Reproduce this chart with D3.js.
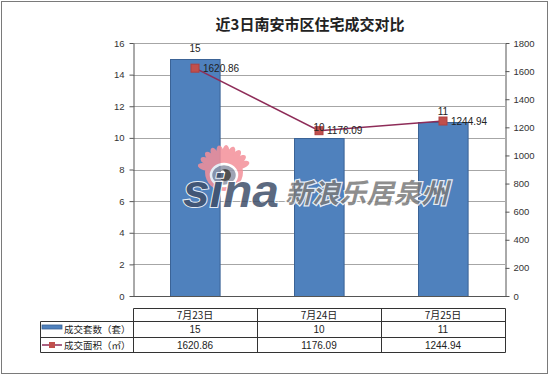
<!DOCTYPE html>
<html><head><meta charset="utf-8">
<script src="https://cdn.jsdelivr.net/npm/d3@7"></script>
<style>body{margin:0;background:#fff}svg{display:block}</style>
</head><body>
<script>
const title = "近3日南安市区住宅成交对比";
const categories = ["7月23日", "7月24日", "7月25日"];
const countValues = [15, 10, 11];
const areaValues = [1620.86, 1176.09, 1244.94];
const areaLabels = ["1620.86", "1176.09", "1244.94"];
const seriesNames = ["成交套数（套）", "成交面积（㎡）"];
const leftTicks = [0, 2, 4, 6, 8, 10, 12, 14, 16];
const rightTicks = [0, 200, 400, 600, 800, 1000, 1200, 1400, 1600, 1800];

const W = 550, H = 377;
const plot = {l: 133, r: 505, t: 43, b: 296};
const font = "'Liberation Sans', Arial, sans-serif";
const cjk = "'Noto Sans CJK SC', sans-serif";

const svg = d3.select("body").append("svg").attr("width", W).attr("height", H);
svg.append("rect").attr("width", W).attr("height", H).attr("fill", "#fff");
svg.append("rect").attr("x", 1.5).attr("y", 1.5).attr("width", 546).attr("height", 372)
  .attr("fill", "none").attr("stroke", "#7a7a7a").attr("stroke-width", 1);

svg.append("text").attr("x", 310).attr("y", 30).attr("text-anchor", "middle")
  .attr("font-family", cjk).attr("font-size", 15).attr("font-weight", 600).attr("fill", "#222")
  .text(title);

const x = d3.scaleBand().domain(categories).range([plot.l, plot.r]).paddingInner(0.6).paddingOuter(0.3);
const yL = d3.scaleLinear().domain([0, 16]).range([plot.b, plot.t]);
const yR = d3.scaleLinear().domain([0, 1800]).range([plot.b, plot.t]);
const cx = c => x(c) + x.bandwidth() / 2;

// gridlines
svg.append("g").selectAll("line").data(leftTicks.filter(d => d > 0)).join("line")
  .attr("x1", plot.l).attr("x2", plot.r)
  .attr("y1", d => Math.round(yL(d)) + 0.5).attr("y2", d => Math.round(yL(d)) + 0.5)
  .attr("stroke", "#a6a6a6").attr("stroke-width", 1);

// bars
svg.append("g").selectAll("rect").data(countValues).join("rect")
  .attr("x", (d, i) => Math.round(x(categories[i])) + 0.5)
  .attr("y", d => Math.round(yL(d)) + 0.5)
  .attr("width", x.bandwidth())
  .attr("height", d => plot.b - Math.round(yL(d)))
  .attr("fill", "#4f81bd").attr("stroke", "#3b6396").attr("stroke-width", 1);

// watermark
const wm = svg.append("g").attr("opacity", 0.85);
const eye = wm.append("g").attr("transform", "translate(224,172)");
const rays = d3.range(-165, -10, 16);
eye.selectAll("ellipse.ray").data(rays).join("ellipse").attr("class", "ray")
  .attr("transform", d => `rotate(${d + 90}) translate(0,-20)`)
  .attr("rx", 3.5).attr("ry", 7).attr("fill", "#f4909a");
eye.append("circle").attr("r", 19).attr("fill", "#f4909a");
eye.append("ellipse").attr("rx", 13).attr("ry", 11).attr("cy", 3).attr("fill", "#8f95a8").attr("stroke", "#fff").attr("stroke-width", 2.5);
eye.append("circle").attr("r", 6).attr("cx", 1).attr("cy", 3).attr("fill", "#333");
eye.append("circle").attr("r", 2.2).attr("cx", -1.5).attr("cy", 0.5).attr("fill", "#fff");
wm.append("text").attr("x", 183).attr("y", 207).attr("font-family", "'Liberation Sans', Arial, sans-serif")
  .attr("font-size", 46).attr("font-weight", "bold").attr("font-style", "italic")
  .attr("fill", "#3f4f6a").attr("stroke", "#fff").attr("stroke-width", 2).attr("paint-order", "stroke")
  .attr("textLength", 96).attr("lengthAdjust", "spacingAndGlyphs").text("sina");
wm.append("text").attr("x", 285).attr("y", 203).attr("font-family", cjk)
  .attr("font-size", 27).attr("font-weight", "bold").attr("font-style", "italic")
  .attr("fill", "#7b7b7b").attr("stroke", "#fff").attr("stroke-width", 2.5).attr("paint-order", "stroke")
  .attr("textLength", 163).text("新浪乐居泉州");

// axes
const axL = d3.axisLeft(yL).tickValues(leftTicks).tickSize(4).tickPadding(5).tickSizeOuter(0).tickFormat(d3.format("d"));
const gL = svg.append("g").attr("transform", `translate(${plot.l + 0.5},0)`).call(axL);
const axR = d3.axisRight(yR).tickValues(rightTicks).tickSize(4).tickPadding(4).tickSizeOuter(0).tickFormat(d3.format("d"));
const gR = svg.append("g").attr("transform", `translate(${plot.r + 0.5},0)`).call(axR);
[gL, gR].forEach(g => {
  g.select(".domain").attr("stroke", "#555");
  g.selectAll(".tick line").attr("stroke", "#555");
  g.selectAll(".tick text").attr("font-family", font).attr("font-size", 9.5).attr("fill", "#333");
});
svg.append("line").attr("x1", plot.l).attr("x2", plot.r + 1).attr("y1", plot.b + 0.5).attr("y2", plot.b + 0.5)
  .attr("stroke", "#555");

// line series
const line = d3.line().x((d, i) => cx(categories[i])).y(d => yR(d));
svg.append("path").datum(areaValues).attr("d", line).attr("fill", "none")
  .attr("stroke", "#8e2c58").attr("stroke-width", 1.5);
svg.append("g").selectAll("rect").data(areaValues).join("rect")
  .attr("x", (d, i) => cx(categories[i]) - 4).attr("y", d => yR(d) - 4)
  .attr("width", 8).attr("height", 8).attr("fill", "#c0504d").attr("stroke", "#b04040");

// data labels
svg.append("g").selectAll("text").data(countValues).join("text")
  .attr("x", (d, i) => cx(categories[i])).attr("y", d => yL(d) - 7)
  .attr("text-anchor", "middle").attr("font-family", font).attr("font-size", 10).attr("fill", "#222")
  .text(d => d);
svg.append("g").selectAll("text").data(areaLabels).join("text")
  .attr("x", (d, i) => cx(categories[i]) + 8).attr("y", (d, i) => yR(areaValues[i]) + 3.5)
  .attr("font-family", font).attr("font-size", 10).attr("fill", "#222")
  .text(d => d);

// data table
const rows = [308.5, 321.5, 337.5, 352.5];
const tbl = svg.append("g").attr("stroke", "#333").attr("stroke-width", 1);
const edges = [plot.l, plot.l + x.step(), plot.l + 2 * x.step(), plot.r];
tbl.append("line").attr("x1", edges[0] + 0.5).attr("x2", plot.r + 0.5).attr("y1", rows[0]).attr("y2", rows[0]);
rows.slice(1).forEach(r => tbl.append("line").attr("x1", 40.5).attr("x2", plot.r + 0.5).attr("y1", r).attr("y2", r));
edges.forEach(e => tbl.append("line").attr("x1", Math.round(e) + 0.5).attr("x2", Math.round(e) + 0.5).attr("y1", rows[0]).attr("y2", rows[3]));
tbl.append("line").attr("x1", 40.5).attr("x2", 40.5).attr("y1", rows[1]).attr("y2", rows[3]);

const tt = svg.append("g").attr("font-size", 10).attr("fill", "#222").attr("text-anchor", "middle");
tt.selectAll("text.h").data(categories).join("text").attr("class", "h")
  .attr("x", d => cx(d)).attr("y", 319).attr("font-family", cjk).text(d => d);
tt.selectAll("text.c").data(countValues).join("text").attr("class", "c")
  .attr("x", (d, i) => cx(categories[i])).attr("y", 333).attr("font-family", font).text(d => d);
tt.selectAll("text.a").data(areaLabels).join("text").attr("class", "a")
  .attr("x", (d, i) => cx(categories[i])).attr("y", 349).attr("font-family", font).text(d => d);

// legend keys
svg.append("rect").attr("x", 42).attr("y", 325).attr("width", 20).attr("height", 4)
  .attr("fill", "#4f81bd").attr("stroke", "#3b6396").attr("stroke-width", 0.8);
svg.append("line").attr("x1", 42).attr("x2", 62).attr("y1", 345).attr("y2", 345)
  .attr("stroke", "#8e2c58").attr("stroke-width", 1.5);
svg.append("rect").attr("x", 49).attr("y", 342).attr("width", 6).attr("height", 6).attr("fill", "#c0504d");
svg.selectAll("text.s").data(seriesNames).join("text").attr("class", "s")
  .attr("x", 64).attr("y", (d, i) => i === 0 ? 333 : 349)
  .attr("font-family", cjk).attr("font-size", 9.5).attr("fill", "#222").text(d => d);
</script>
</body></html>
